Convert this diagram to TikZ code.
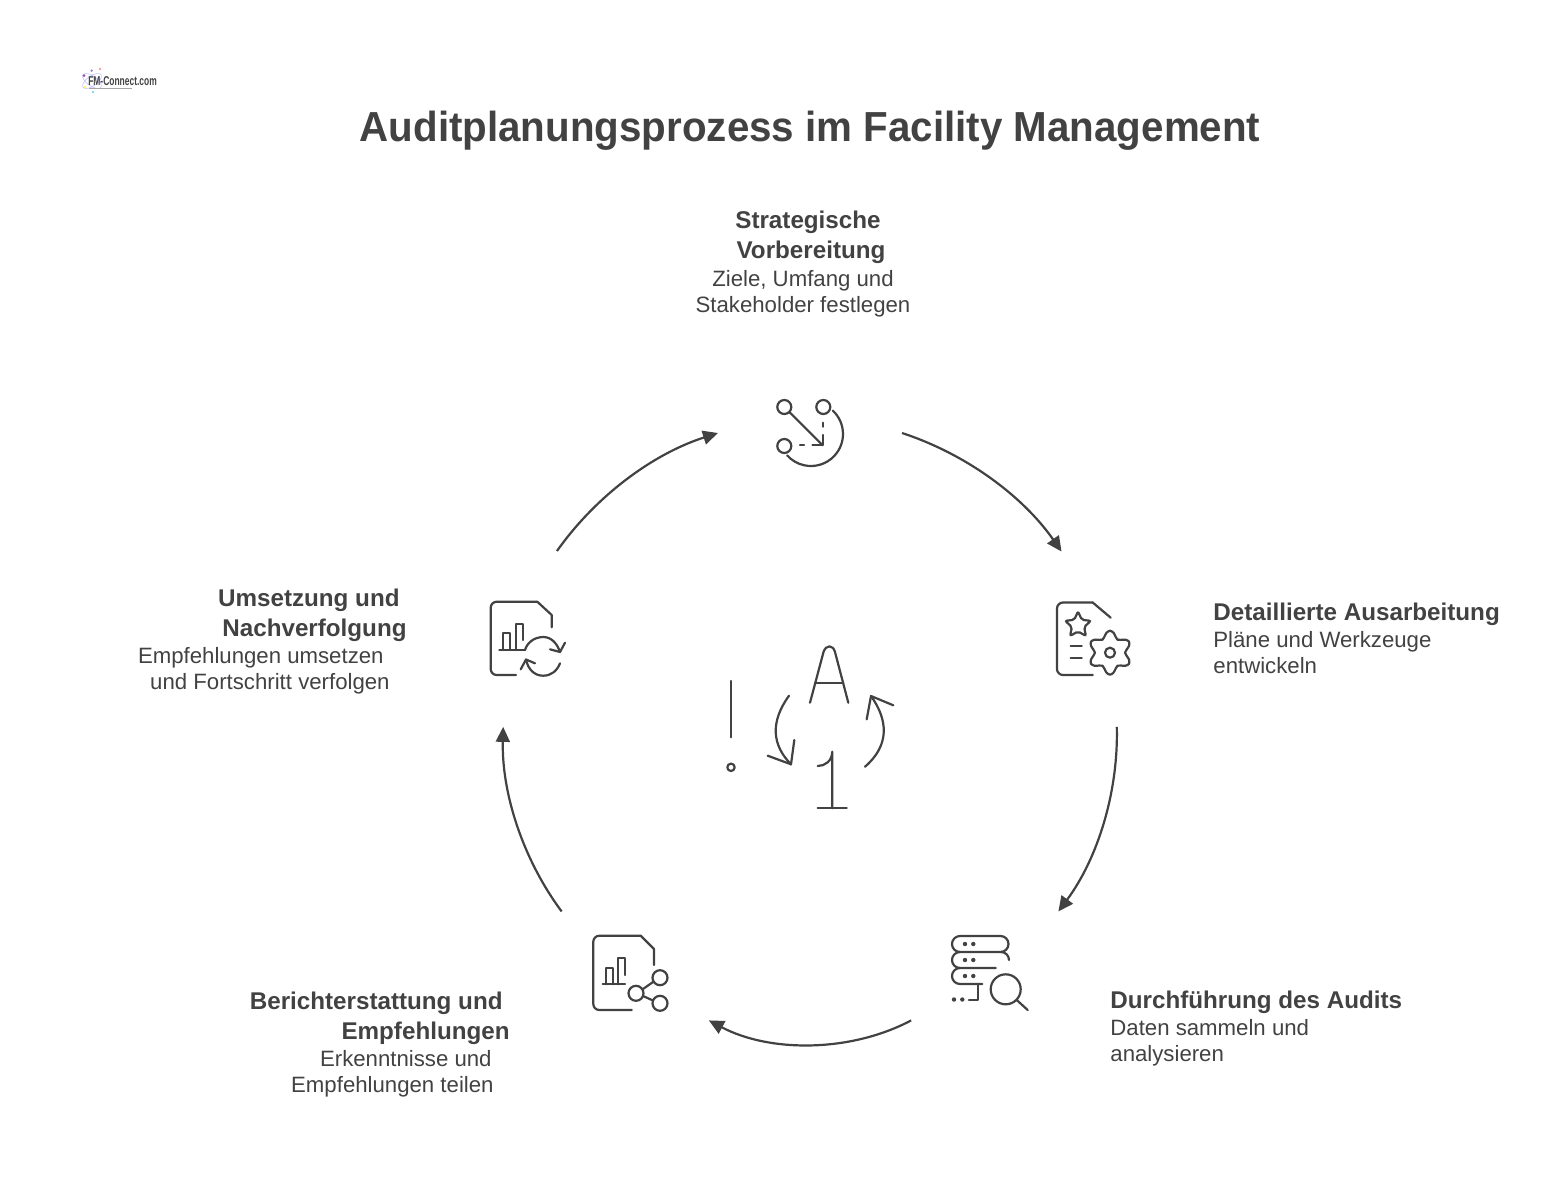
\documentclass[tikz,border=0pt]{standalone}
\usepackage{fontspec}
\setmainfont{Liberation Sans}
\newfontfamily\titlefont[FakeStretch=0.96]{Liberation Sans}
\usetikzlibrary{shapes.geometric, arrows.meta, positioning}
\definecolor{ink}{HTML}{424242}
\tikzstyle{titletext} = [font=\fontsize{21}{25}\selectfont\titlefont\bfseries, text=ink, inner sep=0pt]
\tikzstyle{heading} = [font=\fontsize{12.1}{15}\selectfont\bfseries, text=ink, inner sep=0pt]
\tikzstyle{bodytext} = [font=\fontsize{11.1}{13}\selectfont, text=ink, inner sep=0pt]
\tikzstyle{iconspot} = [circle, minimum size=92pt, inner sep=0pt, outer sep=0pt]
\tikzstyle{arrow} = [draw=ink, line width=1.1pt, -{Triangle[length=7.5pt,width=7pt]}, looseness=0.87]
\tikzstyle{iconline} = [draw=ink, line width=1.1pt, line cap=round, line join=round]
\tikzstyle{dotmark} = [fill=ink, draw=none]

\begin{document}
\begin{tikzpicture}[x=0.5pt, y=-0.5pt]
	\useasboundingbox (0,0) rectangle (1558,1200);

	% logo
	\draw[blue!25, line width=0.3pt, rotate around={35:(92,81)}] (92,81) ellipse (11 and 5);
	\draw[blue!25, line width=0.3pt, rotate around={-35:(92,81)}] (92,81) ellipse (11 and 5);
	\fill[violet!70] (84,75.7) circle (1.5);
	\fill[blue!50] (91.7,70.7) circle (1.3);
	\fill[red!40] (100,69) circle (1.3);
	\fill[yellow!70] (85,87) circle (1.3);
	\fill[cyan!50] (93,92) circle (1.3);
	\node (logo) [inner sep=0pt, text=ink, anchor=west, xscale=0.66, transform shape] at (88,81) {\fontsize{6.4}{7}\selectfont\bfseries FM-Connect.com};
	\draw[gray!70, line width=0.5pt] (89,88) -- (132,88);

	\node (maintitle) [titletext] at (810,131) {Auditplanungsprozess im Facility Management};

	\node (strategie) [iconspot] at (810,433) {};
	\node (detail) [iconspot] at (1093,638) {};
	\node (durchf) [iconspot] at (990,973) {};
	\node (bericht) [iconspot] at (630,973) {};
	\node (umsetz) [iconspot] at (527,638) {};

	\draw [arrow] (strategie.0) to[bend left=18.5] (detail.110);
	\draw [arrow] (detail.-75) to[bend left=19] (durchf.42);
	\draw [arrow] (durchf.211) to[bend left=28] (bericht.-31);
	\draw [arrow] (bericht.138) to[bend left=19] (umsetz.255);
	\draw [arrow] (umsetz.71) to[bend left=18.5] (strategie.180);

	\node (strategieBody) [bodytext, align=center, above=12pt of strategie, xshift=-3.5pt] {Ziele, Umfang und\\Stakeholder festlegen};
	\node (strategieHead) [heading, align=center, above=2.5pt of strategieBody, xshift=2.5pt] {Strategische\\\hspace*{3pt}Vorbereitung};

	\node (detailHead) [heading, align=left, right=14pt of detail, yshift=12pt] {Detaillierte Ausarbeitung};
	\node (detailBody) [bodytext, align=left, below=2.5pt of detailHead.south west, anchor=north west] {Pläne und Werkzeuge\\entwickeln};

	\node (durchfHead) [heading, align=left, right=14pt of durchf, yshift=-14.5pt] {Durchführung des Audits};
	\node (durchfBody) [bodytext, align=left, below=2.5pt of durchfHead.south west, anchor=north west] {Daten sammeln und\\analysieren};

	\node (berichtBody) [bodytext, align=right, left=22pt of bericht, yshift=-50.5pt] {Erkenntnisse und\hspace*{1pt}\\Empfehlungen teilen};
	\node (berichtHead) [heading, align=right, above=2.5pt of berichtBody.north east, anchor=south east, xshift=8pt] {Berichterstattung und\hspace*{3.5pt}\\Empfehlungen};

	\node (umsetzBody) [bodytext, align=right, left=22.5pt of umsetz, yshift=-16.5pt] {Empfehlungen umsetzen\hspace*{3pt}\\und Fortschritt verfolgen};
	\node (umsetzHead) [heading, align=right, above=2.5pt of umsetzBody.north east, anchor=south east, xshift=8.5pt] {Umsetzung und\hspace*{3.5pt}\\Nachverfolgung};

	% icon strategische vorbereitung
	\draw[iconline] (784.3,407) circle (7);
	\draw[iconline] (823.3,407) circle (7);
	\draw[iconline] (784.3,446) circle (7);
	\draw[iconline] (789.3,412) -- (822.7,445.3);
	\draw[iconline] (822.7,435) -- (822.7,445.3) -- (812.5,445.3);
	\draw[iconline] (822.7,422.7) -- (822.7,426.7);
	\draw[iconline] (800,445.3) -- (804,445.3);
	\draw[iconline] (832.8,410.6) arc[start angle=-47, end angle=138, radius=32];

	% icon detaillierte ausarbeitung
	\draw[iconline, rounded corners=3pt] (1092.7,675) -- (1057,675) -- (1057,602.5) -- (1092.7,602.5);
	\draw[iconline] (1092.7,602.5) -- (1110.7,617.7);
	\node (detailStar) [star, star points=5, star point ratio=2.1, minimum size=13.5pt, inner sep=0pt, draw=ink, line width=1.1pt, rounded corners=1pt] at (1078,625) {};
	\draw[iconline] (1070.7,646) -- (1081.7,646);
	\draw[iconline] (1070.7,657.7) -- (1081.7,657.7);
	\draw[iconline] plot[smooth cycle, samples=36, domain=0:350] ({1110+(18.5+3.5*cos(6*\x+180))*cos(\x)}, {652.7+(18.5+3.5*cos(6*\x+180))*sin(\x)});
	\draw[iconline] (1110,652.7) circle (5);

	% icon durchfuehrung
	\draw[iconline] (960,936) -- (1000.5,936) arc[start angle=-90, end angle=90, radius=8] -- (960,952) arc[start angle=90, end angle=270, radius=8];
	\draw[iconline] (960,952) arc[start angle=-90, end angle=-180, radius=8] arc[start angle=180, end angle=90, radius=8] -- (995.7,968);
	\draw[iconline] (1001,952) arc[start angle=-90, end angle=0, radius=8];
	\draw[iconline] (960,968) arc[start angle=-90, end angle=-180, radius=8] arc[start angle=180, end angle=90, radius=8] -- (982.3,984);
	\draw[iconline] (978.3,984) -- (978.3,1000) -- (969,1000);
	\foreach \y in {944,960,976} {
		\fill[dotmark] (965,\y) circle (2.2);
		\fill[dotmark] (973.3,\y) circle (2.2);
	}
	\fill[dotmark] (954,999.5) circle (2.2);
	\fill[dotmark] (962.3,999.5) circle (2.2);
	\draw[iconline] (1005.7,989.3) circle (15);
	\draw[iconline] (1016.7,1000) -- (1027.7,1010);

	% icon berichterstattung
	\draw[iconline, rounded corners=3pt] (631.7,1010) -- (593.3,1010) -- (593.3,935.7) -- (640.7,935.7);
	\draw[iconline] (640.7,935.7) -- (654,949) -- (654,965);
	\draw[iconline] (602.7,984.3) -- (625,984.3);
	\draw[iconline] (606,984.3) -- (606,968.3) -- (612.7,968.3) -- (612.7,984.3);
	\draw[iconline] (618.3,984.3) -- (618.3,958.3) -- (625,958.3) -- (625,975);
	\draw[iconline] (660,977.7) circle (7.5);
	\draw[iconline] (636,993.3) circle (7.5);
	\draw[iconline] (660,1003.3) circle (7.5);
	\draw[iconline] (643,989) -- (653,982);
	\draw[iconline] (643,996) -- (653,1000.5);

	% icon umsetzung
	\draw[iconline, rounded corners=3pt] (516,675) -- (490.7,675) -- (490.7,601.7) -- (537.3,601.7);
	\draw[iconline] (537.3,601.7) -- (551.7,615) -- (551.7,627.3);
	\draw[iconline] (499.3,650) -- (525,650);
	\draw[iconline] (502.7,650) -- (502.7,633.3) -- (510,633.3) -- (510,650);
	\draw[iconline] (516,650) -- (516,624) -- (522.7,624) -- (522.7,640);
	\draw[iconline] (525,650) .. controls (527,643) and (534,637) .. (543.3,637) .. controls (551,637) and (557,643) .. (560,652);
	\draw[iconline] (550,649.3) -- (560,652) -- (565,642.7);
	\draw[iconline] (560,663.3) .. controls (557,671) and (551,675.7) .. (543.3,675.7) .. controls (534,675.7) and (528,669) .. (526,659.5);
	\draw[iconline] (535,663.3) -- (526,659.5) -- (520.7,669.3);

	% centre symbols
	\draw[iconline] (731,681) -- (731,737.3);
	\draw[iconline] (731,767.3) circle (3.7);
	\draw[iconline] (810,702.7) -- (823.5,652) .. controls (826,644.5) and (833,644.5) .. (835,652) -- (848.3,702.7);
	\draw[iconline] (815,683.3) -- (843.3,683.3);
	\draw[iconline] (817.7,766) .. controls (825,766) and (832,761) .. (832.3,751.7) -- (832.3,808.3);
	\draw[iconline] (817.7,808.3) -- (846.7,808.3);
	\draw[iconline] (789,695.7) .. controls (770,722) and (772,745) .. (791,764.3);
	\draw[iconline] (767.7,755.7) -- (791,764.3) -- (794.3,740);
	\draw[iconline] (865,766.7) .. controls (890,745) and (888,720) .. (871,696);
	\draw[iconline] (866.7,719.3) -- (871,696) -- (893.3,705.3);

\end{tikzpicture}
\end{document}
